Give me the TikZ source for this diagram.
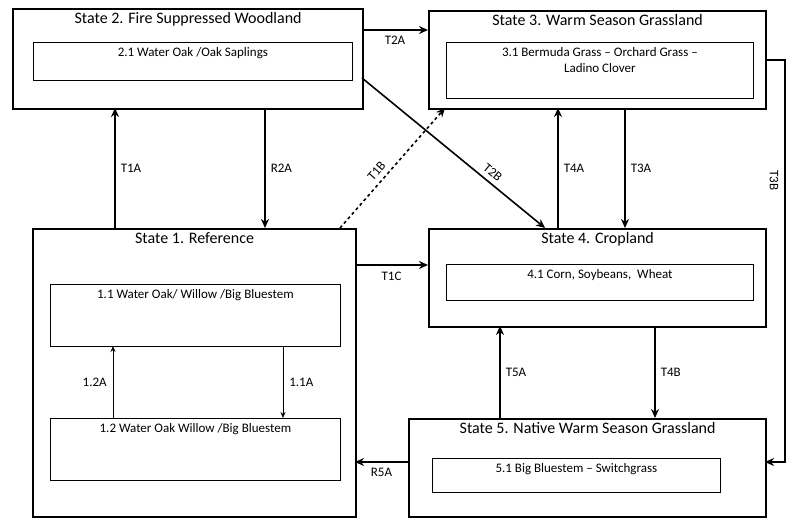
\documentclass[tikz,border=0pt]{standalone}
\usepackage{fontspec}
\setmainfont{Carlito}
\usetikzlibrary{arrows.meta,positioning}

\tikzset{
  state/.style={draw, line width=2.2pt, anchor=north west, inner sep=0pt},
  phase/.style={draw, line width=0.8pt, anchor=north west, inner sep=0pt},
  title/.style={anchor=north, font=\fontsize{16}{18}\selectfont, inner sep=4pt},
  txt/.style={anchor=north, font=\fontsize{13}{16}\selectfont, align=center, inner sep=5pt},
  arr/.style={-{Stealth[length=9pt,width=8pt]}, line width=1.6pt},
  thin arr/.style={-{Stealth[length=6pt,width=5pt]}, line width=0.7pt},
  lbl/.style={font=\fontsize{13}{15}\selectfont, inner sep=1pt}
}

\begin{document}
\begin{tikzpicture}[x=1pt,y=-1pt]
  \useasboundingbox (0,0) rectangle (800,524);

  % State boxes
  \node[state, minimum width=350, minimum height=100] (s2) at (12,8) {};
  \node[state, minimum width=337, minimum height=98] (s3) at (428,10) {};
  \node[state, minimum width=323, minimum height=288] (s1) at (32,228) {};
  \node[state, minimum width=337, minimum height=98] (s4) at (428,228) {};
  \node[state, minimum width=357, minimum height=98] (s5) at (408,418) {};

  % Titles
  \node[title] at (s2.north) {State 2. Fire Suppressed Woodland};
  \node[title] at (s3.north) {State 3. Warm Season Grassland};
  \node[title] at (s1.north) {State 1. Reference};
  \node[title] at (s4.north) {State 4. Cropland};
  \node[title] at (s5.north) {State 5. Native Warm Season Grassland};

  % Community phases
  \node[phase, minimum width=319, minimum height=38] (p21) at (33,42) {};
  \node[txt] at (p21.north) {2.1 Water Oak /Oak Saplings};
  \node[phase, minimum width=307, minimum height=56] (p31) at (446,42) {};
  \node[txt] at (p31.north) {3.1 Bermuda Grass -- Orchard Grass --\\Ladino Clover};
  \node[phase, minimum width=290, minimum height=62] (p11) at (50,284) {};
  \node[txt] at (p11.north) {1.1 Water Oak/ Willow /Big Bluestem};
  \node[phase, minimum width=290, minimum height=62] (p12) at (50,418) {};
  \node[txt] at (p12.north) {1.2 Water Oak Willow /Big Bluestem};
  \node[phase, minimum width=307, minimum height=36] (p41) at (446,264) {};
  \node[txt] at (p41.north) {4.1 Corn, Soybeans,\ \ Wheat};
  \node[phase, minimum width=288, minimum height=34] (p51) at (432,458) {};
  \node[txt] at (p51.north) {5.1 Big Bluestem -- Switchgrass};

  % Transitions
  \draw[arr] (362,30) -- node[lbl, below=4pt] {T2A} (428,30);
  \draw[arr] (115,228) -- node[lbl, right=4pt] {T1A} (115,108);
  \draw[arr] (265,108) -- node[lbl, right=4pt] {R2A} (265,228);
  \draw[arr, dashed] (340,228) -- node[lbl, sloped, above=4pt, pos=0.42] {T1B} (445,108);
  \draw[arr] (362,78) -- node[lbl, sloped, above=4pt, pos=0.68] {T2B} (545,228);
  \draw[arr] (558,228) -- node[lbl, right=4pt] {T4A} (558,108);
  \draw[arr] (625,108) -- node[lbl, right=4pt] {T3A} (625,228);
  \draw[arr] (765,60) -- (785,60) -- node[lbl, sloped, below=5pt, pos=0.3] {T3B} (785,462) -- (765,462);
  \draw[arr] (355,265) -- node[lbl, below=5pt] {T1C} (428,265);
  \draw[arr] (655,326) -- node[lbl, right=4pt] {T4B} (655,418);
  \draw[arr] (500,418) -- node[lbl, right=4pt] {T5A} (500,326);
  \draw[arr] (408,462) -- node[lbl, below=4pt] {R5A} (355,462);

  % Community pathways
  \draw[thin arr] (113,418) -- node[lbl, left=5pt] {1.2A} (113,346);
  \draw[thin arr] (283,346) -- node[lbl, right=5pt] {1.1A} (283,418);
\end{tikzpicture}
\end{document}
